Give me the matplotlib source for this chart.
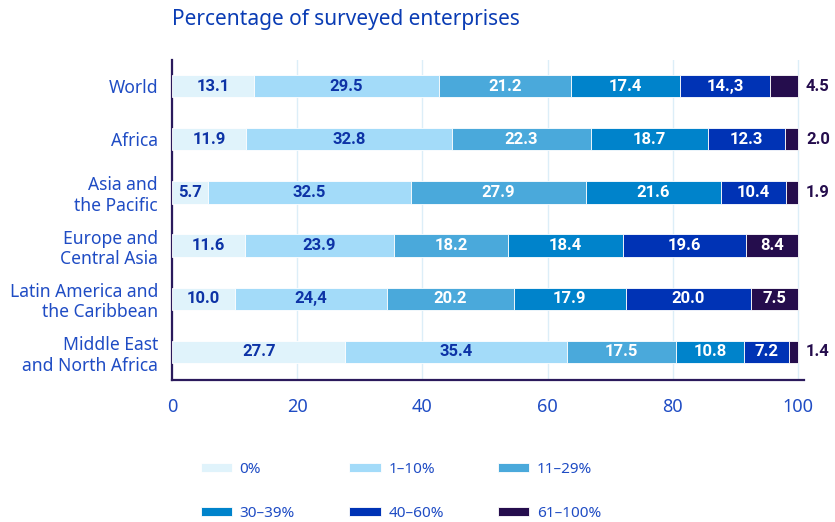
import matplotlib
matplotlib.use("Agg")
import matplotlib.pyplot as plt
import numpy as np

plt.rcParams['font.family'] = ['Noto Sans', 'DejaVu Sans']

regions = ["World", "Africa", "Asia and\nthe Pacific", "Europe and\nCentral Asia",
           "Latin America and\nthe Caribbean", "Middle East\nand North Africa"]
bands = ["0%", "1–10%", "11–29%", "30–39%", "40–60%", "61–100%"]

share_0 = [13.1, 11.9, 5.7, 11.6, 10.0, 27.7]
share_1_10 = [29.5, 32.8, 32.5, 23.9, 24.4, 35.4]
share_11_29 = [21.2, 22.3, 27.9, 18.2, 20.2, 17.5]
share_30_39 = [17.4, 18.7, 21.6, 18.4, 17.9, 10.8]
share_40_60 = [14.3, 12.3, 10.4, 19.6, 20.0, 7.2]
share_61_100 = [4.5, 2.0, 1.9, 8.4, 7.5, 1.4]

# labels printed as published
label_text = {(0, 4): "14.,3", (4, 1): "24,4"}

colors = ["#e0f3fb", "#a3dbf9", "#4aa9db", "#0083cb", "#0033b5", "#250d4d"]
text_dark = "#0d33a6"
text_blue = "#1f4cc4"
spine_col = "#2b1a5c"
value_font = ["Roboto", "DejaVu Sans"]

series = [share_0, share_1_10, share_11_29, share_30_39, share_40_60, share_61_100]

fig = plt.figure(figsize=(8.35, 5.22), dpi=100)
ax = fig.add_axes([0.206, 0.272, 0.757, 0.613])

y = np.arange(len(regions))
left = np.zeros(len(regions))
handles = []
for k, vals in enumerate(series):
    vals = np.array(vals)
    bars = ax.barh(y, vals, left=left, height=0.42, color=colors[k],
                   edgecolor="white", linewidth=0.6, label=bands[k], zorder=3)
    handles.append(bars)
    for i, b in enumerate(bars):
        v = vals[i]
        txt = label_text.get((i, k), f"{v:.1f}")
        cx = left[i] + v / 2
        if k == 5 and v < 5:
            ax.text(101.3, y[i], txt, ha="left", va="center", fontsize=12,
                    fontweight="bold", family=value_font, color="#250d4d",
                    clip_on=False)
        else:
            c = text_dark if k < 2 else "white"
            ax.text(cx, y[i], txt, ha="center", va="center", fontsize=12,
                    fontweight="bold", family=value_font, color=c, zorder=4)
    left += vals

ax.set_xlim(0, 101)
ax.set_ylim(5.53, -0.49)
ax.set_xticks([0, 20, 40, 60, 80, 100])
ax.set_yticks(y)
ax.set_yticklabels(regions, fontsize=12.6, color=text_blue, linespacing=1.2)
ax.tick_params(axis="x", length=0, pad=13, labelsize=13, labelcolor=text_blue)
ax.tick_params(axis="y", length=0, pad=10)
ax.grid(axis="x", color="#dceef8", linewidth=1, zorder=0)
ax.set_axisbelow(True)

for s in ["top", "right"]:
    ax.spines[s].set_visible(False)
for s in ["left", "bottom"]:
    ax.spines[s].set_color(spine_col)
    ax.spines[s].set_linewidth(1.6)

fig.text(0.206, 0.963, "Percentage of surveyed enterprises", fontsize=15,
         color="#0a3cb4", ha="left", va="center")

# legend filled row by row: 3 per row
order = [0, 3, 1, 4, 2, 5]
fig.legend([handles[j] for j in order], [bands[j] for j in order],
           loc="lower left", bbox_to_anchor=(0.224, -0.024), ncol=3, frameon=False,
           fontsize=11, labelcolor=text_blue, handlelength=2.05, handleheight=0.6,
           handletextpad=0.5, columnspacing=3.55, labelspacing=1.9)

fig.savefig("out.png", dpi=100)
